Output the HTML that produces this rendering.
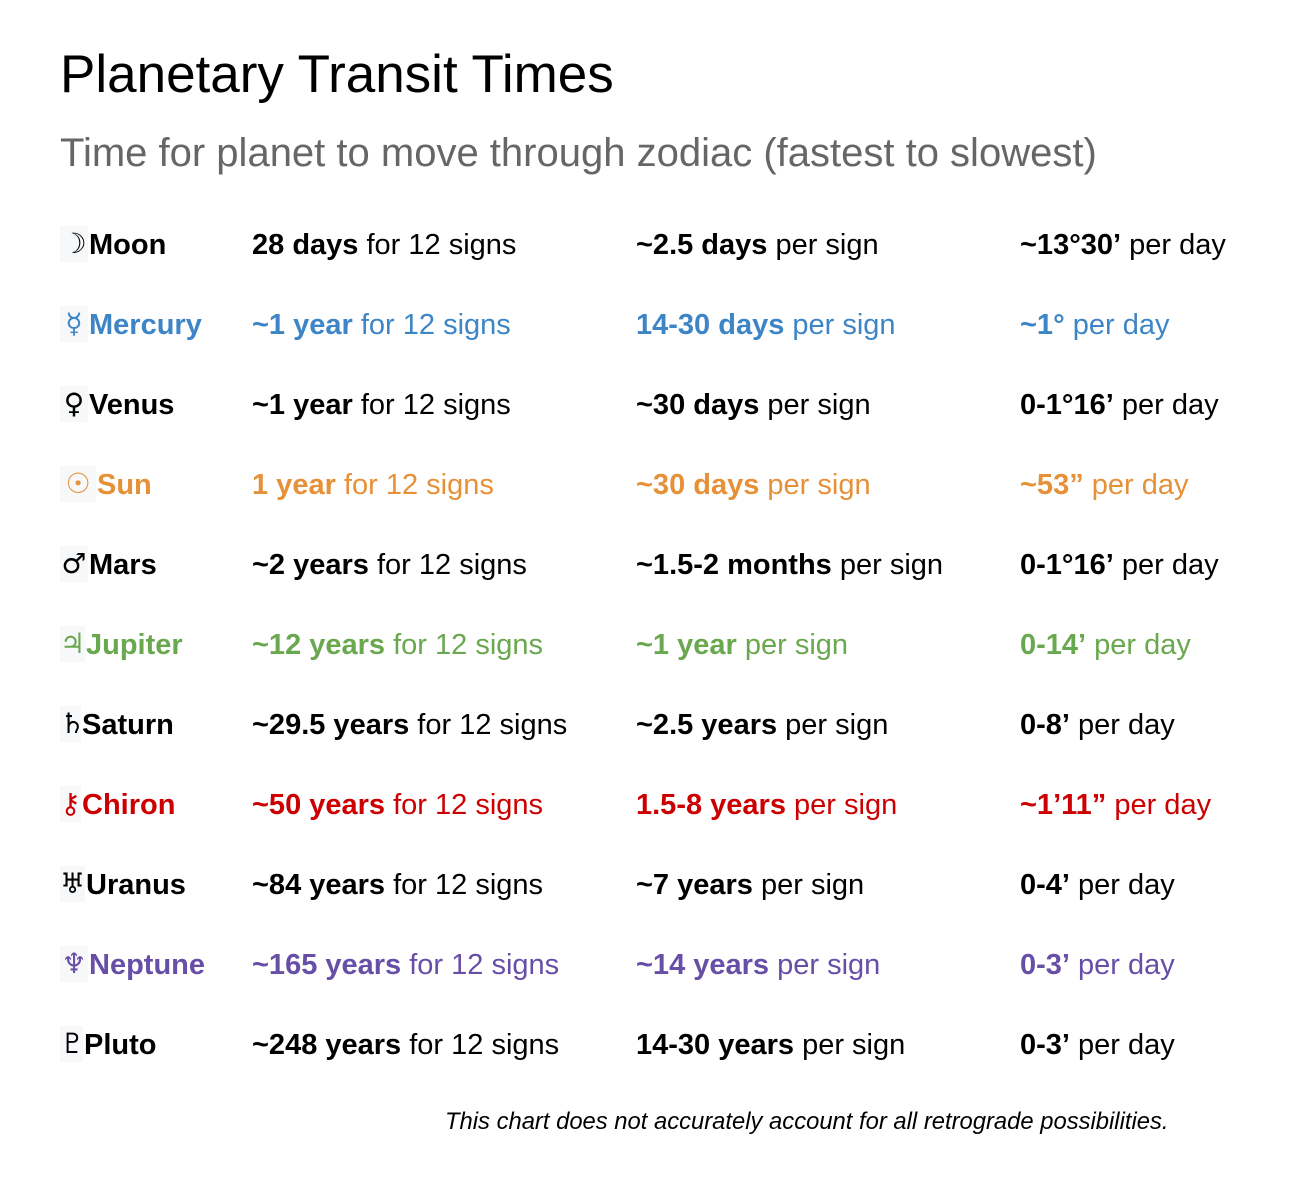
<!DOCTYPE html>
<html><head><meta charset="utf-8"><style>
body{margin:0;width:1298px;height:1194px;background:#fff;font-family:"Liberation Sans",sans-serif;position:relative;overflow:hidden}
.t{position:absolute;left:60px;top:44px;font-size:53px;color:#000;white-space:nowrap}
.s{position:absolute;left:60px;top:131px;font-size:40px;color:#666;white-space:nowrap}
.r{position:absolute;left:0;width:1298px;height:40px;font-size:29px;line-height:40px;white-space:nowrap}
.r > span{position:absolute;top:0}
.c1{left:60px}.c2{left:252px}.c3{left:636px}.c4{left:1020px}
.sym{display:inline-block;background:#f6f8fa;width:28px;text-align:center;height:36px;line-height:36px;vertical-align:middle;margin-right:1px;font-family:"DejaVu Sans",sans-serif;font-size:28px;font-weight:normal;position:relative;top:-2px}
b{font-weight:bold}
.f{position:absolute;left:445px;top:1108px;font-size:23.8px;font-style:italic;white-space:nowrap}
</style></head><body>
<div class="t">Planetary Transit Times</div>
<div class="s">Time for planet to move through zodiac (fastest to slowest)</div>

<div class="r" style="top:225px;color:#000"><span class="c1"><span class="sym">☽</span><b>Moon</b></span><span class="c2"><b>28 days</b> for 12 signs</span><span class="c3"><b>~2.5 days</b> per sign</span><span class="c4"><b>~13°30’</b> per day</span></div>
<div class="r" style="top:305px;color:#3d85c6"><span class="c1"><span class="sym">☿</span><b>Mercury</b></span><span class="c2"><b>~1 year</b> for 12 signs</span><span class="c3"><b>14-30 days</b> per sign</span><span class="c4"><b>~1°</b> per day</span></div>
<div class="r" style="top:385px;color:#000"><span class="c1"><span class="sym">♀</span><b>Venus</b></span><span class="c2"><b>~1 year</b> for 12 signs</span><span class="c3"><b>~30 days</b> per sign</span><span class="c4"><b>0-1°16’</b> per day</span></div>
<div class="r" style="top:465px;color:#e69138"><span class="c1"><span class="sym" style="width:36px;font-weight:bold">☉</span><b>Sun</b></span><span class="c2"><b>1 year</b> for 12 signs</span><span class="c3"><b>~30 days</b> per sign</span><span class="c4"><b>~53”</b> per day</span></div>
<div class="r" style="top:545px;color:#000"><span class="c1"><span class="sym">♂</span><b>Mars</b></span><span class="c2"><b>~2 years</b> for 12 signs</span><span class="c3"><b>~1.5-2 months</b> per sign</span><span class="c4"><b>0-1°16’</b> per day</span></div>
<div class="r" style="top:625px;color:#6aa84f"><span class="c1"><span class="sym" style="width:25px">♃</span><b>Jupiter</b></span><span class="c2"><b>~12 years</b> for 12 signs</span><span class="c3"><b>~1 year</b> per sign</span><span class="c4"><b>0-14’</b> per day</span></div>
<div class="r" style="top:705px;color:#000"><span class="c1"><span class="sym" style="width:21px">♄</span><b>Saturn</b></span><span class="c2"><b>~29.5 years</b> for 12 signs</span><span class="c3"><b>~2.5 years</b> per sign</span><span class="c4"><b>0-8’</b> per day</span></div>
<div class="r" style="top:785px;color:#cc0000"><span class="c1"><span class="sym" style="width:21px">⚷</span><b>Chiron</b></span><span class="c2"><b>~50 years</b> for 12 signs</span><span class="c3"><b>1.5-8 years</b> per sign</span><span class="c4"><b>~1’11”</b> per day</span></div>
<div class="r" style="top:865px;color:#000"><span class="c1"><span class="sym" style="width:25px">♅</span><b>Uranus</b></span><span class="c2"><b>~84 years</b> for 12 signs</span><span class="c3"><b>~7 years</b> per sign</span><span class="c4"><b>0-4’</b> per day</span></div>
<div class="r" style="top:945px;color:#674ea7"><span class="c1"><span class="sym">♆</span><b>Neptune</b></span><span class="c2"><b>~165 years</b> for 12 signs</span><span class="c3"><b>~14 years</b> per sign</span><span class="c4"><b>0-3’</b> per day</span></div>
<div class="r" style="top:1025px;color:#000"><span class="c1"><span class="sym" style="width:23px">♇</span><b>Pluto</b></span><span class="c2"><b>~248 years</b> for 12 signs</span><span class="c3"><b>14-30 years</b> per sign</span><span class="c4"><b>0-3’</b> per day</span></div>

<div class="f">This chart does not accurately account for all retrograde possibilities.</div>
</body></html>
